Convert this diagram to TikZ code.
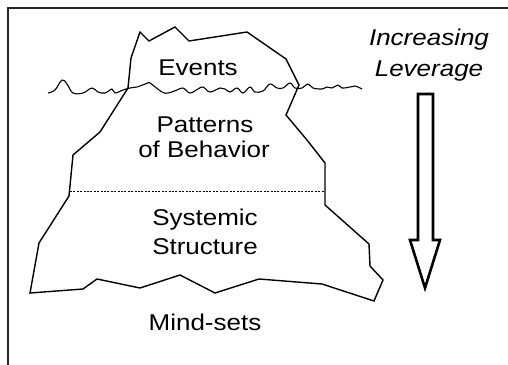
\documentclass[tikz,border=0pt]{standalone}
\usepackage{fontspec}
\setmainfont{Liberation Sans}[FakeStretch=1.14]
\begin{document}
\begin{tikzpicture}[x=1pt,y=-1pt,
  berg/.style={line width=1.4pt,line join=miter},
  layertext/.style={anchor=base,inner sep=0pt,font=\fontsize{22.8}{26}\selectfont},
  levertext/.style={anchor=base,inner sep=0pt,font=\fontsize{22.8}{26}\selectfont\itshape},
  framebar/.style={line width=1.6pt,draw=black!85},
  hollowarrow/.style={line width=2.6pt,fill=white,line join=miter}]
\useasboundingbox (0,0) rectangle (508,364);

% frame edges
\coordinate (ftl) at (8,8);
\coordinate (ftr) at (512,8);
\coordinate (fbl) at (8,368);
\draw[framebar] (fbl) -- (ftl) -- (ftr);

% iceberg outline
\draw[berg] (140,32) -- (149,41) -- (175,27) -- (189,41) -- (247,32)
  -- (286,59) -- (299,85) -- (286,115) -- (307,140) -- (325,163)
  -- (325,205) -- (369,244) -- (370,266) -- (383,280) -- (374,301)
  -- (322,284) -- (259,279) -- (215,293) -- (180,275) -- (140,288)
  -- (97,279) -- (83,289) -- (30,293) -- (39,243) -- (69,196)
  -- (73,155) -- (100,132) -- (128,88) -- (131,58) -- cycle;

% water surface
\draw[line width=1.1pt,line join=round] plot[smooth,tension=0.6] coordinates {
  (48,93) (55,90) (62,80) (67,84) (73,93) (83,93) (92,88) (98,92)
  (105,93) (112,89) (115,93) (123,90) (130,88) (137,87) (140,86)
  (148,83) (150,83) (162,92) (168,93) (177,90) (183,88) (190,93)
  (198,89) (203,87) (210,92) (220,88) (225,89) (230,92) (237,88)
  (243,93) (250,87) (255,92) (263,91) (270,84) (277,88) (283,88)
  (290,83) (295,88) (302,88) (308,84) (313,88) (322,89) (327,87)
  (332,88) (338,85) (342,88) (350,87) (355,86) (362,89)};

% boundary between patterns and structure
\coordinate (dl) at (70,191);
\coordinate (dr) at (325,191);
\draw[line width=0.8pt,dash pattern=on 2pt off 1.4pt] (dl) -- (dr);

% layer labels
\node[layertext] (events) at (198,75) {Events};
\node[layertext] (patterns) at (205,132) {Patterns};
\node[layertext] (behavior) at (204,157) {of Behavior};
\node[layertext] (systemic) at (205,225) {Systemic};
\node[layertext] (structure) at (205,254) {Structure};
\node[layertext] (mindsets) at (205,330) {Mind-sets};

% leverage caption
\node[levertext] (increasing) at (429,45) {Increasing};
\node[levertext] (leverage) at (429,76) {Leverage};

% hollow downward arrow
\draw[hollowarrow] (418,94) -- (433,94) -- (433,240) -- (440,240)
  -- (425,288) -- (410,240) -- (418,240) -- cycle;
\end{tikzpicture}
\end{document}
